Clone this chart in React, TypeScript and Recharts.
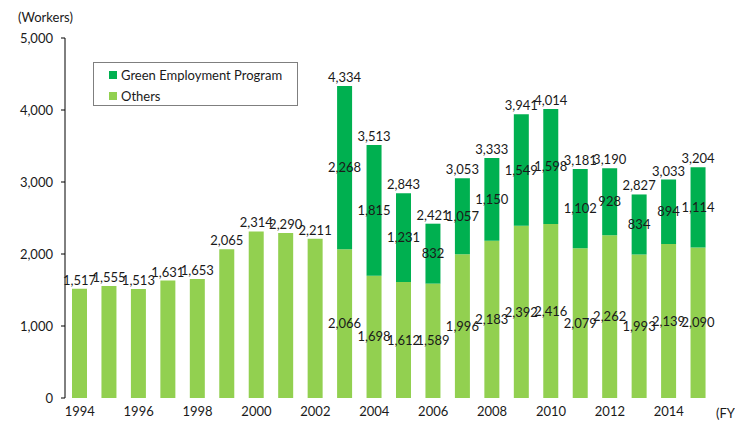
import React from 'react';
import { BarChart, Bar, XAxis, YAxis, Legend, LabelList } from 'recharts';

const years = ['1994', '1995', '1996', '1997', '1998', '1999', '2000', '2001', '2002', '2003', '2004',
  '2005', '2006', '2007', '2008', '2009', '2010', '2011', '2012', '2013', '2014', '2015'];
const others = [1517, 1555, 1513, 1631, 1653, 2065, 2314, 2290, 2211, 2066, 1698,
  1612, 1589, 1996, 2183, 2392, 2416, 2079, 2262, 1993, 2139, 2090];
const green = [null, null, null, null, null, null, null, null, null, 2268, 1815,
  1231, 832, 1057, 1150, 1549, 1598, 1102, 928, 834, 894, 1114];
const yTicks = [0, 1000, 2000, 3000, 4000, 5000];

const data = years.map((year, i) => ({
  year,
  others: others[i],
  green: green[i],
  othersTop: green[i] == null ? others[i] : null,
  othersMid: green[i] != null ? others[i] : null,
  total: green[i] != null ? others[i] + (green[i] as number) : null,
}));
const boundaries = years.map((_, i) => i).concat(years.length);

const FONT = 'Lato, "Noto Sans", sans-serif';
const DARK = '#00B050';
const LIGHT = '#92D050';
const fmt = (v: any) => (v == null ? '' : Number(v).toLocaleString('en-US'));
const labelStyle = { fill: '#1a1a1a', fontSize: 13, fontFamily: FONT };

const legendItems = [
  { name: 'Green Employment Program', color: DARK },
  { name: 'Others', color: LIGHT },
];

const LegendBox = () => (
  <div style={{ border: '1px solid #7f7f7f', width: 203, height: 42, boxSizing: 'content-box',
    fontFamily: FONT, fontSize: 13, color: '#1a1a1a', background: '#fff' }}>
    {legendItems.map((it, i) => (
      <div key={it.name} style={{ position: 'absolute', left: 16, top: 4 + i * 21, display: 'flex', alignItems: 'center', height: 18 }}>
        <span style={{ display: 'inline-block', width: 8, height: 8, background: it.color, marginRight: 4 }} />
        <span>{it.name}</span>
      </div>
    ))}
  </div>
);

export default function App() {
  return (
    <div style={{ position: 'relative', width: 735, height: 423, background: '#fff' }}>
      <style>{`body{margin:0}`}</style>
      <BarChart width={735} height={423} data={data} margin={{ top: 38, right: 22, left: 0, bottom: 0 }}
        barSize={15}>
        <XAxis xAxisId="ticks" type="number" domain={[0, years.length]} ticks={boundaries}
          allowDataOverflow height={0} tickFormatter={() => ''} tickSize={5}
          axisLine={{ stroke: '#000' }} tickLine={{ stroke: '#000' }} />
        <XAxis xAxisId="cat" dataKey="year" height={25} interval={1} axisLine={false} tickLine={false}
          tickSize={0} tickMargin={9} tick={{ fill: '#1a1a1a', fontSize: 13, fontFamily: FONT }} />
        <YAxis domain={[0, 5000]} ticks={yTicks} width={65} tickFormatter={fmt} tickSize={4} tickMargin={8}
          axisLine={{ stroke: '#000' }} tickLine={{ stroke: '#000' }}
          tick={{ fill: '#1a1a1a', fontSize: 13, fontFamily: FONT }} />
        <Legend layout="vertical" align="center" verticalAlign="middle" content={<LegendBox />}
          wrapperStyle={{ position: 'absolute', top: 62, left: 93, width: 205, height: 44 }} />
        <Bar xAxisId="cat" dataKey="others" name="Others" stackId="a" fill={LIGHT} isAnimationActive={false}>
          <LabelList dataKey="othersMid" position="center" formatter={fmt} style={labelStyle} />
          <LabelList dataKey="othersTop" position="top" offset={4} formatter={fmt} style={labelStyle} />
        </Bar>
        <Bar xAxisId="cat" dataKey="green" name="Green Employment Program" stackId="a" fill={DARK} isAnimationActive={false}>
          <LabelList dataKey="green" position="center" formatter={fmt} style={labelStyle} />
          <LabelList dataKey="total" position="top" offset={4} formatter={fmt} style={labelStyle} />
        </Bar>
      </BarChart>
      <div style={{ position: 'absolute', left: 18, top: 9, fontFamily: FONT, fontSize: 13, color: '#1a1a1a' }}>(Workers)</div>
      <div style={{ position: 'absolute', left: 716, top: 405, fontFamily: FONT, fontSize: 13, color: '#1a1a1a' }}>(FY)</div>
    </div>
  );
}
